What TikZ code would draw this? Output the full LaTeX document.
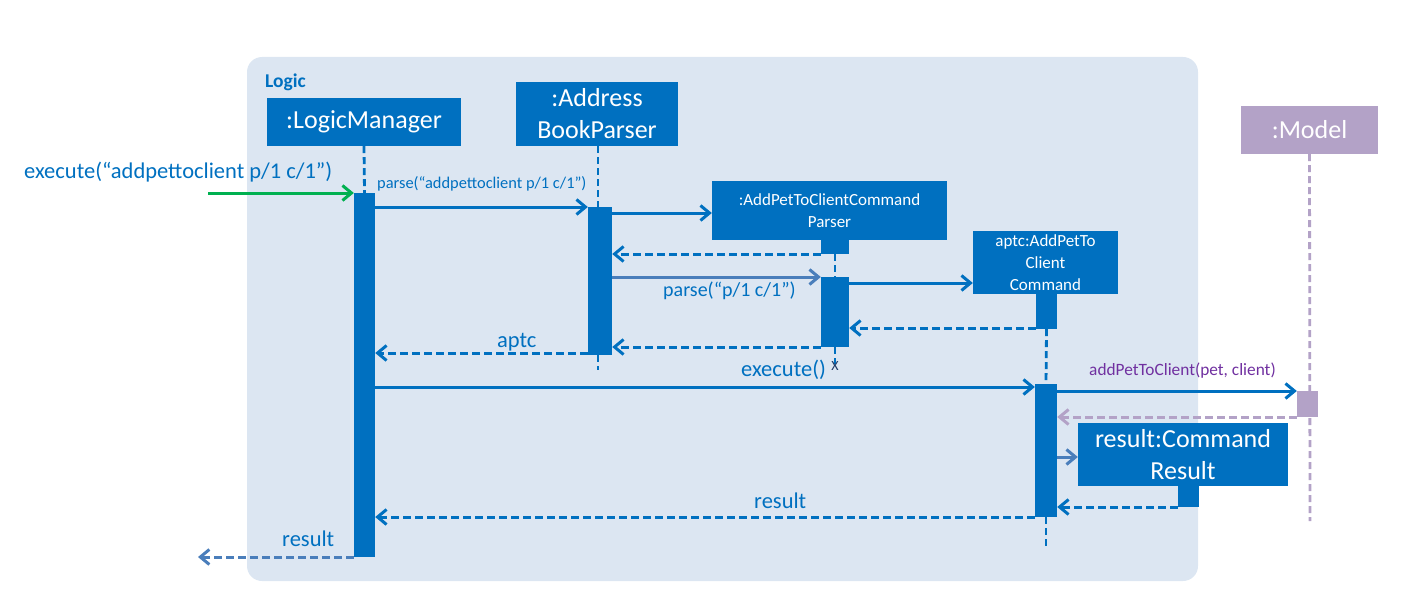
\documentclass[tikz,border=0pt]{standalone}
\usepackage{fontspec}
\setmainfont{Carlito}
\usetikzlibrary{arrows.meta}

\definecolor{umlblue}{HTML}{0070C0}
\definecolor{softblue}{HTML}{4A7EBB}
\definecolor{logicbg}{HTML}{DCE6F2}
\definecolor{modelpurple}{HTML}{B3A2C7}
\definecolor{msgpurple}{HTML}{7030A0}
\definecolor{callgreen}{HTML}{00B050}
\definecolor{endnavy}{HTML}{1F3864}

\newcommand{\bigtxt}{\fontsize{26}{32}\selectfont}
\newcommand{\boxtxt}{\fontsize{17}{22}\selectfont}
\newcommand{\lbltxt}{\fontsize{22.5}{26}\selectfont}

\tikzset{
  box/.style={fill=umlblue, text=white, inner sep=0pt, align=center},
  act/.style={fill=umlblue, inner sep=0pt},
  life/.style={umlblue, line width=2.8pt, dash pattern=on 7pt off 4pt},
  call/.style={umlblue, line width=3pt, -{Straight Barb[length=9pt,width=15pt]}},
  back/.style={call, dash pattern=on 8pt off 4pt},
  lbl/.style={umlblue, inner sep=0pt, anchor=base west}
}

\begin{document}
\begin{tikzpicture}[x=1pt,y=-1pt]
  \useasboundingbox (0,0) rectangle (1407,615);
  \fill[logicbg, rounded corners=15pt] (247,57) rectangle (1198,581);
  \node[lbl, font=\fontsize{19.5}{21}\selectfont\bfseries] (logic) at (265,88) {Logic};

  % participants
  \node[box, minimum width=194, minimum height=48, font=\bigtxt] (lm) at (364,122) {:LogicManager};
  \node[box, minimum width=162, minimum height=64, font=\bigtxt] (abp) at (597,114) {:Address\\BookParser};
  \node[box, minimum width=235, minimum height=59, font=\boxtxt] (parser) at (829.5,210.5) {:AddPetToClientCommand\\Parser};
  \node[act, minimum width=28, minimum height=14] (parserStub) at (835,247) {};
  \node[box, minimum width=145, minimum height=63, font=\boxtxt] (aptc) at (1045.5,262.5) {aptc:AddPetTo\\Client\\Command};
  \node[act, minimum width=21, minimum height=35] (aptcStub) at (1046.5,311.5) {};
  \node[box, fill=modelpurple, minimum width=137, minimum height=48, font=\bigtxt] (model) at (1309.5,130) {:Model};
  \node[box, minimum width=210, minimum height=63, font=\bigtxt] (res) at (1183,454.5) {result:Command\\Result};
  \node[act, minimum width=21, minimum height=21] (resStub) at (1188.5,496.5) {};

  % activation bars
  \node[act, minimum width=21, minimum height=364] (actLM) at (364.5,375) {};
  \node[act, minimum width=24, minimum height=148] (actABP) at (600,281) {};
  \node[act, minimum width=28, minimum height=70] (actParser) at (835,312) {};
  \node[act, minimum width=22, minimum height=133] (actAptc) at (1046,450.5) {};

  % lifelines
  \coordinate (abpEnd) at (598,370);
  \coordinate (parserEnd) at (835,364);
  \coordinate (aptcEnd) at (1046,548);
  \coordinate (modelEnd) at (1310,521);
  \draw[life] (lm.south) -- (actLM.north);
  \draw[life] (598,146) -- (598,207);
  \draw[life] (actABP.south -| abpEnd) -- (abpEnd);
  \draw[life] (parserStub.south) -- (actParser.north);
  \draw[life] (actParser.south) -- (parserEnd);
  \draw[life] (aptcStub.south) -- (actAptc.north);
  \draw[life] (actAptc.south) -- (aptcEnd);
  \draw[life, modelpurple] (model.south) -- (modelEnd);
  \node[act, fill=modelpurple, minimum width=21, minimum height=26] (actModel) at (1307.5,404) {};
  \node[endnavy, inner sep=0pt, font=\fontsize{14}{14}\selectfont] (destroy) at (835,366) {X};

  % message levels
  \coordinate (start) at (208,193);
  \coordinate (stop) at (198,557);
  \coordinate (mParse) at (0,207);
  \coordinate (mNew) at (0,213);
  \coordinate (mRet) at (0,254);
  \coordinate (mParseArgs) at (0,277);
  \coordinate (mNewCmd) at (0,283);
  \coordinate (mRetCmd) at (0,328);
  \coordinate (mRetParser) at (0,347);
  \coordinate (mAptc) at (0,353);
  \coordinate (mExec) at (0,387);
  \coordinate (mAdd) at (0,391);
  \coordinate (mRetModel) at (0,417);
  \coordinate (mNewRes) at (0,457);
  \coordinate (mRetRes) at (0,507);
  \coordinate (mResult) at (0,517);

  % messages
  \draw[call, callgreen] (start) -- (actLM.west |- start);
  \draw[call] (actLM.east |- mParse) -- (actABP.west |- mParse);
  \draw[call] (actABP.east |- mNew) -- (parser.west |- mNew);
  \draw[back] (parserStub.west |- mRet) -- (actABP.east |- mRet);
  \draw[call, softblue] (actABP.east |- mParseArgs) -- (actParser.west |- mParseArgs);
  \draw[call] (actParser.east |- mNewCmd) -- (aptc.west |- mNewCmd);
  \draw[back] (aptcStub.west |- mRetCmd) -- (actParser.east |- mRetCmd);
  \draw[back] (actParser.west |- mRetParser) -- (actABP.east |- mRetParser);
  \draw[back] (actABP.west |- mAptc) -- (actLM.east |- mAptc);
  \draw[call] (actLM.east |- mExec) -- (actAptc.west |- mExec);
  \draw[call] (actAptc.east |- mAdd) -- (actModel.west |- mAdd);
  \draw[back, modelpurple] (actModel.west |- mRetModel) -- (actAptc.east |- mRetModel);
  \draw[call, softblue] (actAptc.east |- mNewRes) -- (res.west |- mNewRes);
  \draw[back] (resStub.west |- mRetRes) -- (actAptc.east |- mRetRes);
  \draw[back] (actAptc.west |- mResult) -- (actLM.east |- mResult);
  \draw[back, softblue] (actLM.west |- stop) -- (stop);

  % message labels
  \node[lbl, font=\lbltxt] (execLbl) at (24,178) {execute(“addpettoclient p/1 c/1”)};
  \node[lbl, font=\fontsize{16.4}{18}\selectfont] (parseLbl) at (377,188) {parse(“addpettoclient p/1 c/1”)};
  \node[lbl, font=\fontsize{20}{22}\selectfont] (parseArgsLbl) at (663,296) {parse(“p/1 c/1”)};
  \node[lbl, font=\lbltxt] (aptcLbl) at (497,347) {aptc};
  \node[lbl, font=\lbltxt] (executeLbl) at (741,376) {execute()};
  \node[lbl, msgpurple, font=\fontsize{17.3}{19}\selectfont] (addLbl) at (1089,375) {addPetToClient(pet, client)};
  \node[lbl, font=\lbltxt] (resultLbl) at (754,508) {result};
  \node[lbl, font=\lbltxt] (resultOutLbl) at (282,546) {result};
\end{tikzpicture}
\end{document}
